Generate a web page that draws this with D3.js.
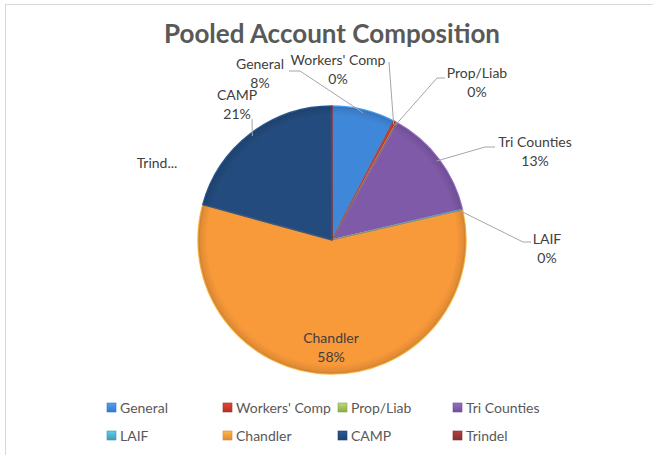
<!DOCTYPE html>
<html><head><meta charset="utf-8">
<script src="https://cdn.jsdelivr.net/npm/d3@7"></script>
<style>
html,body{margin:0;padding:0;background:#fff;}
svg{display:block;font-family:Lato,"Open Sans",sans-serif;}
</style></head>
<body>
<svg id="c" width="653" height="455"></svg>
<script>
// ---- data ----
const categories = ["General","Workers' Comp","Prop/Liab","Tri Counties","LAIF","Chandler","CAMP","Trindel"];
const values = [7.6, 0.4, 0.05, 13.3, 0.1, 57.8, 20.7, 0.05];
const pctLabels = ["8%","0%","0%","13%","0%","58%","21%","0%"];
const shownNames = ["General","Workers' Comp","Prop/Liab","Tri Counties","LAIF","Chandler","CAMP","Trind..."];
const colors = ["#3f87d8","#c0392b","#9bbb59","#7f5aa8","#4bacc6","#f8993a","#234b7d","#943634"];

// ---- layout ----
const W = 653, H = 455;
const cx = 332, cy = 240, R = 134;
// label center x, name baseline y, leader line polyline end points (label side)
const labelLayout = [
  {x:260, y:69, line:[[289,71],[300,71]]},
  {x:338, y:65, line:[[389,62]]},
  {x:477, y:78, line:[[445,78],[437,78]]},
  {x:535, y:147, line:[[495,147],[485,147]]},
  {x:547, y:244, line:[[531,242],[523,242]]},
  {x:331, y:343, line:null},
  {x:237, y:100, line:[[252,119]]},
  {x:157, y:168, line:null}
];
const legendCols = [107, 223, 338, 453];
const legendRows = [407.5, 435.5];

const svg = d3.select("#c");
const defs = svg.append("defs");

// frame
svg.append("rect").attr("x",5.5).attr("y",4.5).attr("width",W+10).attr("height",H+10)
  .attr("fill","#fff").attr("stroke","#d9d9d9").attr("stroke-width",1);

// title
svg.append("text").attr("x",332).attr("y",43).attr("text-anchor","middle")
  .attr("font-size",26).attr("font-weight","bold").attr("fill","#595959")
  .text("Pooled Account Composition");

// gradients for legend swatches
colors.forEach((c,i)=>{
  const lg = defs.append("linearGradient").attr("id","lg"+i).attr("x1",0).attr("y1",0).attr("x2",0).attr("y2",1);
  lg.append("stop").attr("offset","0%").attr("stop-color",d3.color(c).brighter(0.5));
  lg.append("stop").attr("offset","100%").attr("stop-color",d3.color(c).darker(0.3));
});

const pie = d3.pie().sort(null).value(d=>d);
const arcs = pie(values);
const arc = d3.arc().innerRadius(0).outerRadius(R);
const g = svg.append("g").attr("transform",`translate(${cx},${cy})`);

g.selectAll("path.slice").data(arcs).enter().append("path")
  .attr("class","slice").attr("d",arc)
  .attr("fill",(d,i)=>colors[i])
  .attr("stroke",(d,i)=>d3.color(colors[i]).brighter(0.5))
  .attr("stroke-width",1.5).attr("stroke-linejoin","round");

// subtle inner edge shadows between slices
g.selectAll("path.edge").data(arcs).enter().append("path")
  .attr("class","edge").attr("d",d3.arc().innerRadius(0).outerRadius(R-1))
  .attr("fill","none").attr("stroke",(d,i)=>d3.color(colors[i]).darker(0.6))
  .attr("stroke-width",0.6).attr("stroke-opacity",0.6);

// rim: darker outer band
const rimG = defs.append("radialGradient").attr("id","rim").attr("gradientUnits","userSpaceOnUse")
  .attr("cx",0).attr("cy",0).attr("r",R);
rimG.append("stop").attr("offset","93%").attr("stop-color","#000").attr("stop-opacity",0);
rimG.append("stop").attr("offset","100%").attr("stop-color","#000").attr("stop-opacity",0.12);
g.append("circle").attr("r",R).attr("fill","url(#rim)");

// leader lines
const outerPt = (d,rr)=>{ const a=(d.startAngle+d.endAngle)/2; return [cx+rr*Math.sin(a), cy-rr*Math.cos(a)]; };
arcs.forEach((d,i)=>{
  const L = labelLayout[i];
  if(!L.line) return;
  const p = outerPt(d, R-3);
  svg.append("polyline")
    .attr("points",[...L.line, p].map(q=>q.join(",")).join(" "))
    .attr("fill","none").attr("stroke","#a6a6a6").attr("stroke-width",1);
});

// labels
arcs.forEach((d,i)=>{
  const L = labelLayout[i];
  const t = svg.append("text").attr("text-anchor","middle").attr("font-size",14).attr("fill","#404040");
  t.append("tspan").attr("x",L.x).attr("y",L.y).text(shownNames[i]);
  if(i!==7) t.append("tspan").attr("x",L.x).attr("y",L.y+18.5).text(pctLabels[i]);
});

// legend
categories.forEach((c,i)=>{
  const x = legendCols[i%4], y = legendRows[Math.floor(i/4)];
  svg.append("rect").attr("x",x).attr("y",y-4.5).attr("width",9).attr("height",9)
    .attr("fill",`url(#lg${i})`).attr("stroke",d3.color(colors[i]).darker(0.4)).attr("stroke-width",0.6);
  svg.append("text").attr("x",x+13).attr("y",y+5).attr("font-size",14).attr("fill","#595959").text(c);
});
</script>
</body></html>
